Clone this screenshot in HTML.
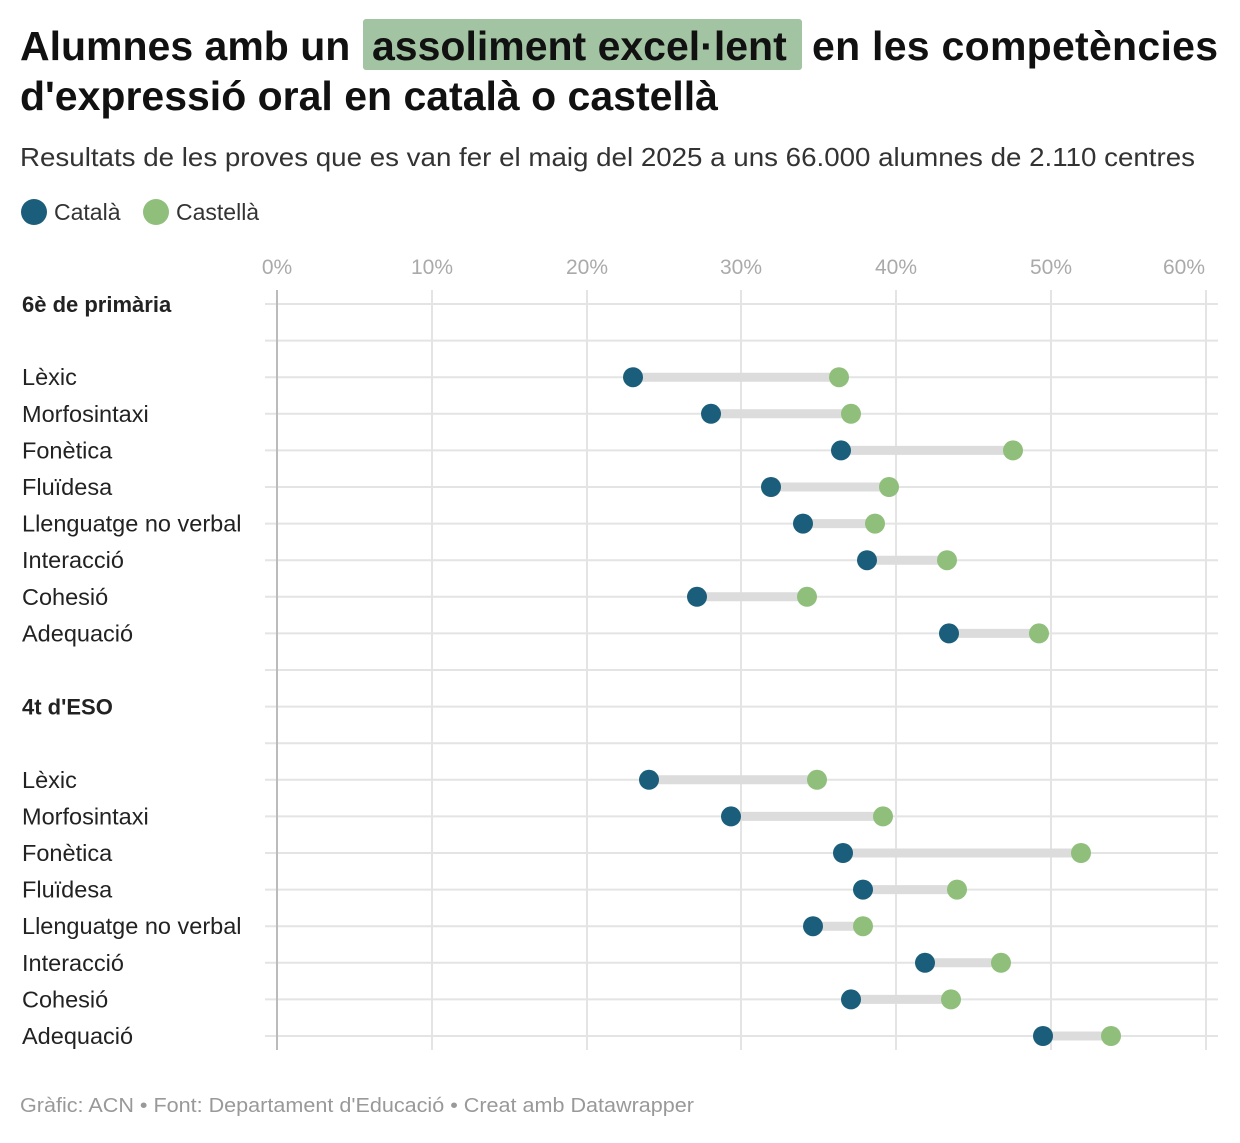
<!DOCTYPE html>
<html><head><meta charset="utf-8"><style>
body{margin:0;background:#fff;width:1240px;height:1138px;overflow:hidden;font-family:"Liberation Sans",Arial,sans-serif;}
</style></head><body>
<svg width="1240" height="1138" xmlns="http://www.w3.org/2000/svg" font-family="Liberation Sans, Arial, sans-serif">
<rect x="363" y="19" width="439" height="51" rx="3" fill="#a3c4a2"/>
<text x="20" y="60" font-size="41" font-weight="bold" fill="#111">Alumnes amb un <tspan x="372">assoliment excel·lent</tspan><tspan x="812" textLength="406">en les competències</tspan></text>
<text x="20" y="110" font-size="41" font-weight="bold" fill="#111">d'expressió oral en català o castellà</text>
<text x="20" y="166" font-size="26" fill="#333" textLength="1175" lengthAdjust="spacingAndGlyphs">Resultats de les proves que es van fer el maig del 2025 a uns 66.000 alumnes de 2.110 centres</text>
<circle cx="34" cy="212" r="13" fill="#1b5e7b"/>
<text x="54" y="220" font-size="23" fill="#333">Català</text>
<circle cx="156" cy="212" r="13" fill="#8fbf7b"/>
<text x="176" y="220" font-size="23" fill="#333">Castellà</text>
<g font-size="21" fill="#aaa" text-anchor="middle">
<text x="277" y="274">0%</text><text x="432" y="274">10%</text><text x="587" y="274">20%</text><text x="741" y="274">30%</text><text x="896" y="274">40%</text><text x="1051" y="274">50%</text><text x="1184" y="274">60%</text>
</g>
<g stroke="#e4e4e4" stroke-width="2">
<line x1="432" y1="290" x2="432" y2="1050"/><line x1="587" y1="290" x2="587" y2="1050"/><line x1="741" y1="290" x2="741" y2="1050"/><line x1="896" y1="290" x2="896" y2="1050"/><line x1="1051" y1="290" x2="1051" y2="1050"/><line x1="1206" y1="290" x2="1206" y2="1050"/>
</g>
<g id="h" stroke="#e4e4e4" stroke-width="2"></g>
<line x1="277" y1="290" x2="277" y2="1050" stroke="#bbb" stroke-width="2"/>
<g id="d"></g>
<g font-size="23.5" fill="#222" id="l"></g>
<text x="20" y="1112" font-size="20" fill="#999" textLength="674" lengthAdjust="spacingAndGlyphs">Gràfic: ACN • Font: Departament d'Educació • Creat amb Datawrapper</text>
</svg>
<script>
var ns="http://www.w3.org/2000/svg";
function el(p,t,a,txt){var e=document.createElementNS(ns,t);for(var k in a)e.setAttribute(k,a[k]);if(txt)e.textContent=txt;document.getElementById(p).appendChild(e);}
var labels=["6è de primària","","Lèxic","Morfosintaxi","Fonètica","Fluïdesa","Llenguatge no verbal","Interacció","Cohesió","Adequació","","4t d'ESO","","Lèxic","Morfosintaxi","Fonètica","Fluïdesa","Llenguatge no verbal","Interacció","Cohesió","Adequació"];
var data={2:[633,839],3:[711,851],4:[841,1013],5:[771,889],6:[803,875],7:[867,947],8:[697,807],9:[949,1039],13:[649,817],14:[731,883],15:[843,1081],16:[863,957],17:[813,863],18:[925,1001],19:[851,951],20:[1043,1111]};
for(var i=0;i<21;i++){var y=304+i*36.6;
el("h","line",{x1:265,x2:1218,y1:y,y2:y});
if(labels[i]){var a={x:22,y:y+8};if(i==0||i==11){a["font-weight"]="bold";a["font-size"]="22";}el("l","text",a,labels[i]);}
var d=data[i];if(d){el("d","line",{x1:d[0],x2:d[1],y1:y,y2:y,stroke:"#dcdcdc","stroke-width":9});
el("d","circle",{cx:d[1],cy:y,r:10,fill:"#8fbf7b"});el("d","circle",{cx:d[0],cy:y,r:10,fill:"#1b5e7b"});}}
</script>
</body></html>
